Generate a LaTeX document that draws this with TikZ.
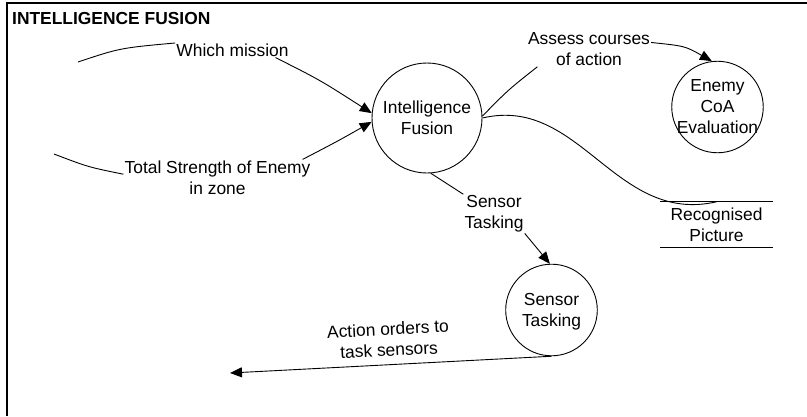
\documentclass[tikz,border=0pt]{standalone}
\usepackage{fontspec}
\setmainfont{Liberation Sans}
\usetikzlibrary{arrows.meta}
\begin{document}
\begin{tikzpicture}[x=1pt,y=-1pt,
  txt/.style={font=\fontsize{17.4pt}{21pt}\selectfont},
  proc/.style={txt,circle,draw,line width=0.9pt,inner sep=-12pt,align=center},
  lbl/.style={txt,align=center,inner sep=1pt},
  store/.style={txt,align=center,inner sep=0pt,minimum width=112pt,minimum height=45pt},
  storeline/.style={line width=1.2pt},
  link/.style={line width=0.9pt},
  flow/.style={link,-{Triangle[length=12pt,width=10pt]}},
  frame/.style={line width=1.6pt,line join=miter}]
\useasboundingbox (0,0) rectangle (807,416);

% frame and heading
\draw[frame] (7,416) -- (7,3) -- (807,3);
\node[font=\fontsize{17.4pt}{21pt}\selectfont\bfseries,anchor=base west,inner sep=0pt]
  (title) at (12,24) {INTELLIGENCE FUSION};

% processes (the strut balances the descender of the last line)
\node[proc,minimum size=110pt] (IF) at (427,118) {Intelligence\\Fusion};
\node[proc,minimum size=91.5pt] (EC) at (717.5,107) {Enemy\\CoA\\Evaluation};
\node[proc,minimum size=91.6pt] (ST) at (551.5,310) {\rule{0pt}{16.2pt}Sensor\\Tasking};

% data store
\node[store] (RP) at (716.5,224.5) {Recognised\\Picture};
\draw[storeline] (RP.north west) -- (RP.north east)
                 (RP.south west) -- (RP.south east);

% flow labels
\node[lbl] (wm) at (232.5,50) {Which mission};
\node[lbl] (ts) at (217.5,177.5) {Total Strength of Enemy\\in zone};
\node[lbl] (ac) at (589,49) {Assess courses\\of action};
\node[lbl] (st) at (494,213.8) {Sensor\\Tasking};
\node[lbl,rotate=3] (ao) at (388.5,339.5) {Action orders to\\task sensors};

% free ends of the flows
\coordinate (wmsrc) at (78,62);
\coordinate (tssrc) at (54,154);
\coordinate (aoend) at (230,373);

% flows
\draw[link] (wmsrc) .. controls (120,48) .. (wm.173);
\draw[flow] (wm.-10) .. controls (320,80) .. (IF.175);

\draw[link] (tssrc) .. controls (88,167) .. (ts.178);
\draw[flow] (ts.12) .. controls (338,141) .. (IF.184);

\draw[link] (IF.2) .. controls (508,90) .. (ac.199);
\draw[flow] (ac.6) .. controls (685,46) .. (EC.97);

\draw[link] (IF.0) .. controls (580,95) and (615,225) .. (RP.north);

\draw[link] (IF.-86) -- (st.north west);
\draw[flow] (st.south east) -- (ST.92);

\draw[flow] (ST.south) -- (aoend);
\end{tikzpicture}
\end{document}
